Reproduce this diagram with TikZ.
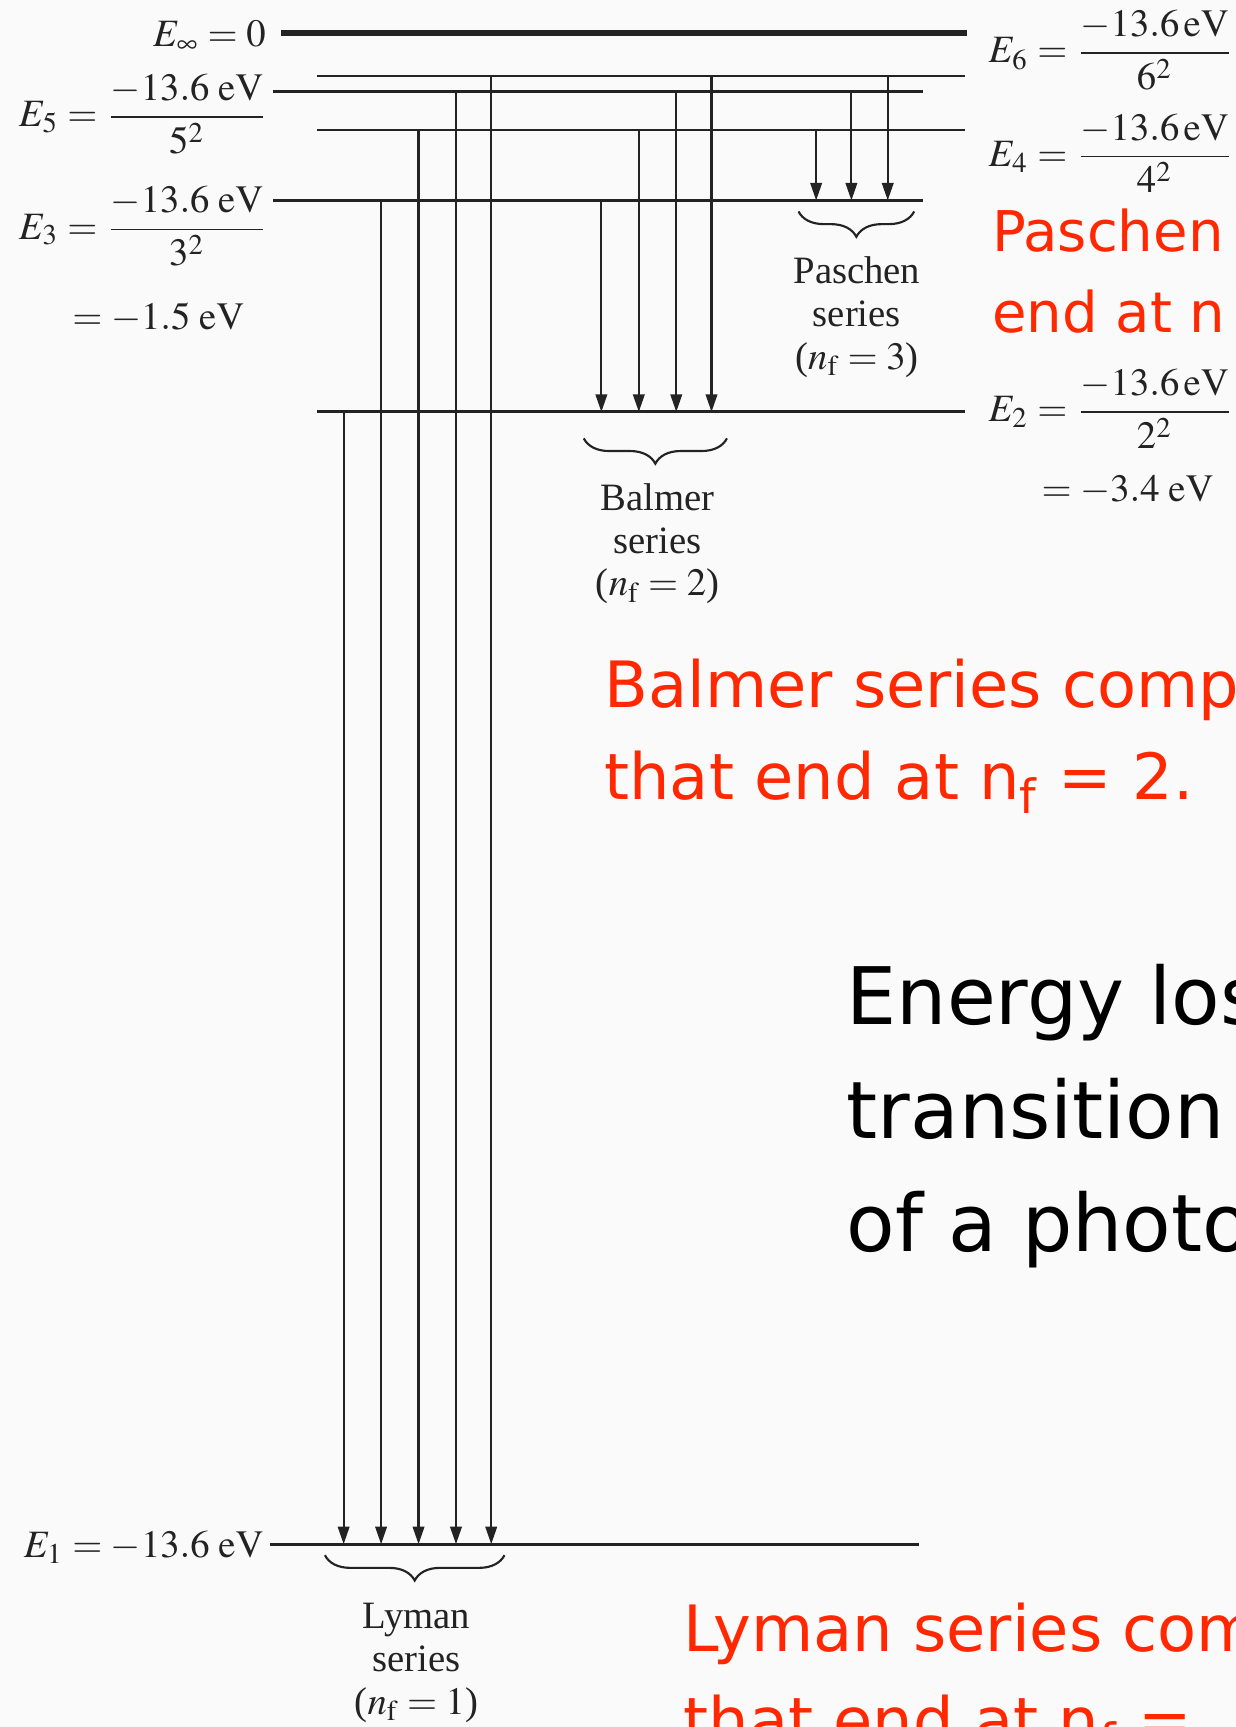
\documentclass[tikz,border=0pt]{standalone}
\usepackage{amsmath}
\usepackage{mathptmx}
\usepackage{fontspec}
\setmainfont{Liberation Serif}
\newfontfamily\notefont{DejaVu Sans}
\usetikzlibrary{arrows.meta,decorations.pathreplacing}
\definecolor{notered}{RGB}{255,40,0}
\definecolor{ink}{RGB}{35,35,35}
\definecolor{paper}{RGB}{250,250,251}

\begin{document}
\begin{tikzpicture}[
  level/.style={ink,line width=0.75pt},
  trans/.style={ink,line width=0.55pt,-{Triangle[length=1.6mm,width=1.05mm]}},
  bracket/.style={ink,line width=0.55pt,decorate,decoration={brace,mirror,amplitude=2.3mm}},
  serieslbl/.style={ink,anchor=north,align=center,inner sep=0pt,font=\fontsize{10}{11.1}\selectfont},
  eqn/.style={ink,inner sep=0pt,font=\fontsize{10}{12}\selectfont},
  note/.style={anchor=north west,align=left,inner sep=0pt,text=notered}
]
\useasboundingbox (0,0) rectangle (11.22,-15.68);
\fill[paper] (0,0) rectangle (11.22,-15.68);
\clip (0,0) rectangle (11.22,-15.68);

% energy levels
\coordinate (Linf) at (2.55,-0.30);
\coordinate (Rinf) at (8.78,-0.30);
\draw[ink,line width=1.4pt] (Linf) -- (Rinf);
\foreach \n/\y/\xa/\xb in {6/0.69/2.88/8.76,5/0.83/2.48/8.38,4/1.18/2.88/8.76,
                           3/1.82/2.48/8.38,2/3.74/2.88/8.76,1/14.02/2.45/8.34}{
  \coordinate (L\n) at (\xa,-\y);
  \coordinate (R\n) at (\xb,-\y);
  \draw[level] (L\n) -- (R\n);
}

% transitions
\foreach \x/\n in {3.12/2,3.46/3,3.80/4,4.14/5,4.46/6}
  \draw[trans] (\x,0 |- L\n) -- (\x,0 |- L1);
\foreach \x/\n in {5.46/3,5.80/4,6.14/5,6.46/6}
  \draw[trans] (\x,0 |- L\n) -- (\x,0 |- L2);
\foreach \x/\n in {7.41/4,7.73/5,8.06/6}
  \draw[trans] (\x,0 |- L\n) -- (\x,0 |- L3);

% series
\draw[bracket] (7.25,-1.92) -- (8.30,-1.92);
\draw[bracket] (5.30,-3.98) -- (6.60,-3.98);
\draw[bracket] (2.95,-14.12) -- (4.58,-14.12);
\node[serieslbl] (paschen) at (7.78,-2.32) {Paschen\\series\\($n_\mathrm{f} = 3$)};
\node[serieslbl] (balmer) at (5.97,-4.38) {Balmer\\series\\($n_\mathrm{f} = 2$)};
\node[serieslbl] (lyman) at (3.78,-14.55) {Lyman\\series\\($n_\mathrm{f} = 1$)};

% level values
\node[eqn,anchor=base east] (einf) at (2.42,-0.42) {$E_\infty = 0$};
\node[eqn,anchor=base east] (e5) at (2.44,-1.15) {$E_5 = \dfrac{-13.6\;\mathrm{eV}}{5^2}$};
\node[eqn,anchor=base east] (e3) at (2.44,-2.17) {$E_3 = \dfrac{-13.6\;\mathrm{eV}}{3^2}$};
\node[eqn,anchor=base west] (e3val) at (0.65,-2.99) {$= -1.5\;\mathrm{eV}$};
\node[eqn,anchor=base east] (e1) at (2.40,-14.14) {$E_1 = -13.6\;\mathrm{eV}$};
\node[eqn,anchor=base west] (e6) at (8.97,-0.57) {$E_6 = \dfrac{-13.6\,\mathrm{eV}}{6^2}$};
\node[eqn,anchor=base west] (e4) at (8.97,-1.51) {$E_4 = \dfrac{-13.6\,\mathrm{eV}}{4^2}$};
\node[eqn,anchor=base west] (e2) at (8.97,-3.83) {$E_2 = \dfrac{-13.6\,\mathrm{eV}}{2^2}$};
\node[eqn,anchor=base west] (e2val) at (9.45,-4.55) {$= -3.4\;\mathrm{eV}$};

% notes
\node[note,font=\notefont\fontsize{14.5}{21}\selectfont] (paschentxt) at (9.00,-1.89) {Paschen\\end at n};
\node[note,font=\notefont\fontsize{16.5}{23.6}\selectfont] (balmertxt) at (5.48,-5.98) {Balmer series comp\\that end at n\textsubscript{f} = 2.};
\node[note,font=\notefont\fontsize{20.5}{29.3}\selectfont,text=black] (energytxt) at (7.68,-8.75) {Energy los\\transition\\of a photo};
\node[note,font=\notefont\fontsize{16.5}{23.6}\selectfont] (lymantxt) at (6.20,-14.55) {Lyman series com\\that end at n\textsubscript{f} =};
\end{tikzpicture}
\end{document}
